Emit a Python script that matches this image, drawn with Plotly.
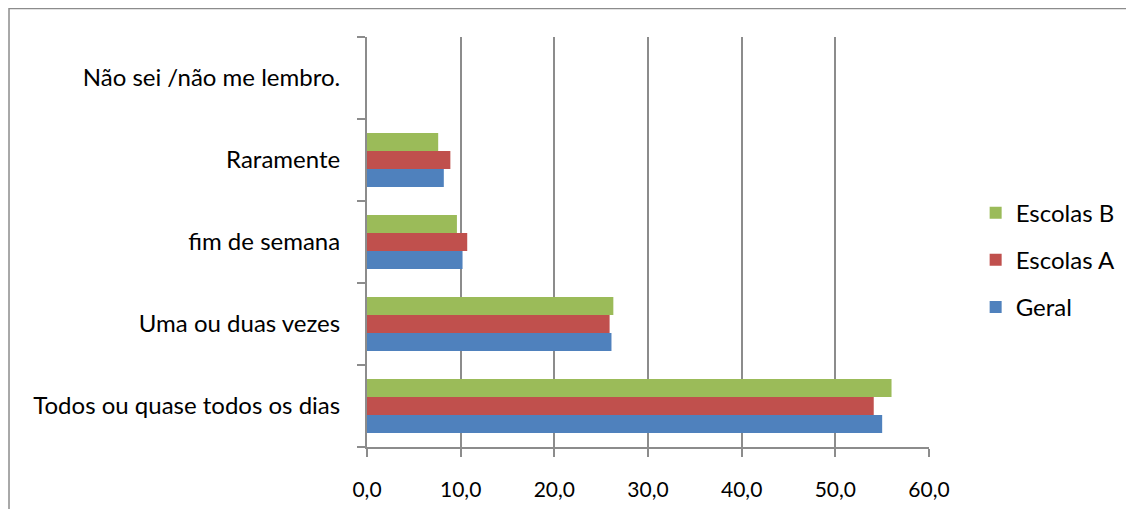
import plotly.graph_objects as go

categories = ["Todos ou quase todos os dias", "Uma ou duas vezes", "fim de semana", "Raramente", "Não sei /não me lembro."]
geral = [55.0, 26.1, 10.2, 8.2, 0.0]
escolas_a = [54.1, 25.9, 10.7, 8.9, 0.0]
escolas_b = [56.0, 26.3, 9.6, 7.6, 0.0]
x_ticks = [0, 10, 20, 30, 40, 50, 60]

series = [("Geral", geral, "#4F81BD", 3), ("Escolas A", escolas_a, "#C0504D", 2), ("Escolas B", escolas_b, "#9BBB59", 1)]

fig = go.Figure()
for name, vals, col, rank in series:
    fig.add_trace(go.Bar(y=categories, x=vals, name=name, orientation="h",
                         marker=dict(color=col, line=dict(width=0)), legendgroup=name, legendrank=rank))

fam = "Lato, Calibri, sans-serif"
font = dict(family=fam, size=24, color="#000000")
fig.update_layout(
    width=1134, height=509,
    margin=dict(l=359, r=213, t=29, b=70, autoexpand=False),
    paper_bgcolor="white", plot_bgcolor="white",
    barmode="group", bargap=0.34, bargroupgap=0,
    separators=", ",
    font=font,
    legend=dict(traceorder="grouped", tracegroupgap=13, x=1.083, y=0.456, xanchor="left", yanchor="middle",
                font=dict(family=fam, size=24, color="#000000"), itemwidth=30),
    showlegend=True,
)
fig.update_xaxes(range=[0, 60], tickvals=x_ticks, tickformat=".1f", showgrid=True, gridcolor="#8C8C8C", gridwidth=2,
                 showline=True, linecolor="#8C8C8C", linewidth=2, ticks="outside", ticklen=8, tickcolor="#8C8C8C",
                 tickwidth=2, zeroline=False, tickfont=dict(family=fam, size=21, color="#000000"),
                 ticklabelstandoff=15, automargin=False)
fig.update_yaxes(type="category", categoryorder="array", categoryarray=categories, showline=True, linecolor="#8C8C8C",
                 linewidth=2, ticks="outside", ticklen=8, tickcolor="#8C8C8C", tickwidth=2, tickson="boundaries",
                 showgrid=False, tickfont=font, ticklabelstandoff=20, automargin=False)
fig.add_shape(type="rect", xref="paper", yref="paper", x0=-0.637, x1=1.5, y0=-0.3, y1=1.0695,
              line=dict(color="#8C8C8C", width=1.5), fillcolor="rgba(0,0,0,0)", layer="below")
fig.write_html("out.html")
